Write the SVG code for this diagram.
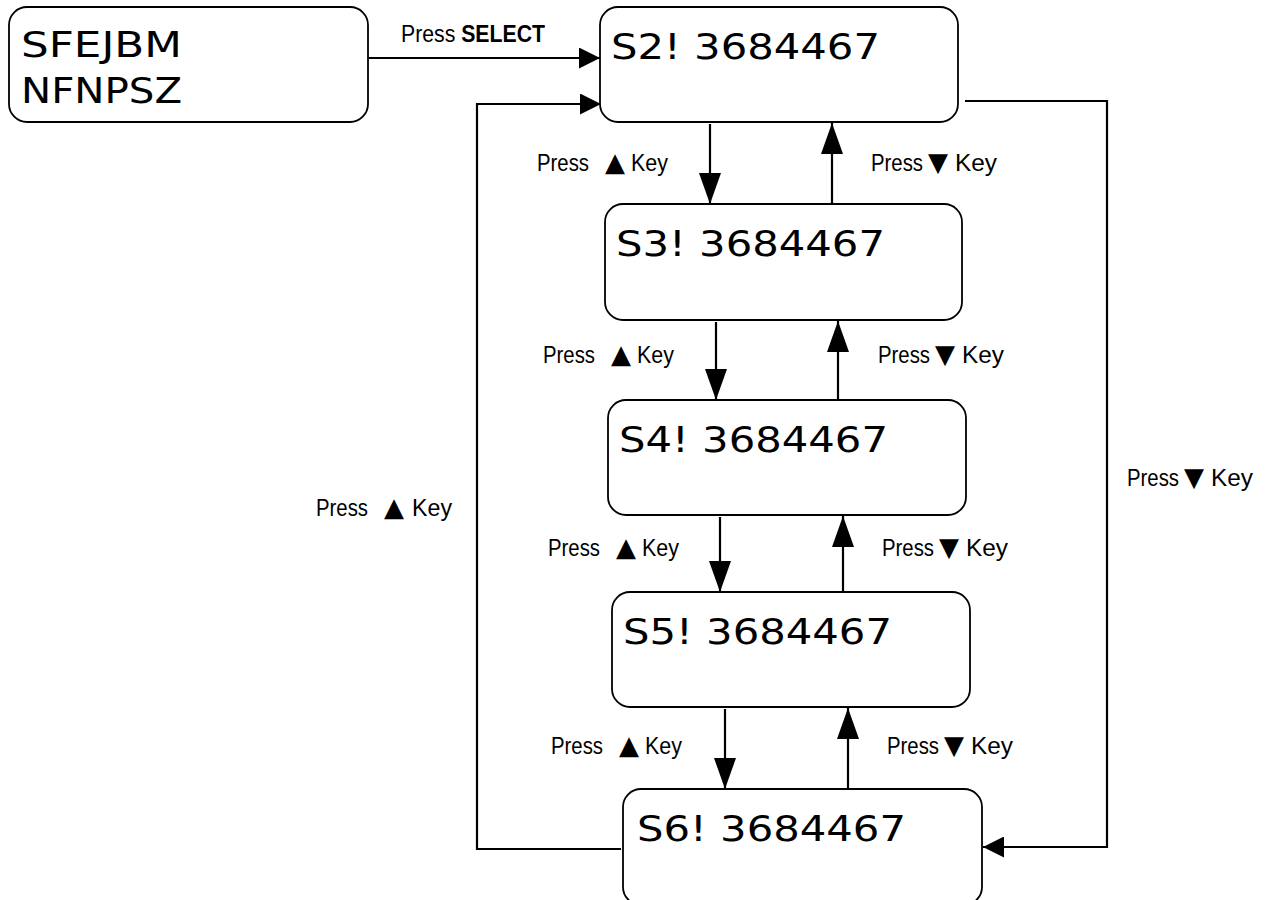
<svg xmlns="http://www.w3.org/2000/svg" width="1265" height="900" viewBox="0 0 1265 900">
<style>
.box{fill:#fff;stroke:#000;stroke-width:1.8}
.big{font-family:"DejaVu Sans","Liberation Sans",sans-serif;font-size:36px;fill:#000}
.lbl{font-family:"Liberation Sans",Arial,sans-serif;font-size:23px;fill:#000}
.tri{font-family:"DejaVu Sans",sans-serif;font-size:26px;fill:#000}
.ln{fill:none;stroke:#000;stroke-width:2.2}
.v{marker-end:url(#av)}
.h{marker-end:url(#ah)}
</style>
<defs>
<marker id="av" markerUnits="userSpaceOnUse" markerWidth="31" markerHeight="22" refX="31" refY="11" orient="auto" viewBox="0 0 31 22">
<path d="M0,0 L31,11 L0,22 z" fill="#000"/>
</marker>
<marker id="ah" markerUnits="userSpaceOnUse" markerWidth="21" markerHeight="21" refX="21" refY="10.5" orient="auto" viewBox="0 0 21 21">
<path d="M0,0 L21,10.5 L0,21 z" fill="#000"/>
</marker>
</defs>
<rect width="1265" height="900" fill="#fff"/>
<g id="connectors">
<path class="ln h" d="M369,58 H600"/>
<path class="ln h" d="M621,849 H477 V104 H601"/>
<path class="ln h" d="M965,101 H1107 V847 H983"/>
<path class="ln v" d="M710,124 V204"/>
<path class="ln v" d="M832,207 V123"/>
<path class="ln v" d="M716,322 V400"/>
<path class="ln v" d="M838,403 V321"/>
<path class="ln v" d="M720,517 V592"/>
<path class="ln v" d="M843,595 V516"/>
<path class="ln v" d="M725,709 V789"/>
<path class="ln v" d="M848,792 V708"/>
</g>
<g id="labels">
<text class="lbl" x="401" y="42" textLength="144" lengthAdjust="spacingAndGlyphs" font-size="21">Press <tspan font-weight="bold">SELECT</tspan></text>
<g id="lbl-up-1"><text class="lbl" x="537" y="171" textLength="52" lengthAdjust="spacingAndGlyphs">Press</text><text class="tri" x="605" y="171">▲</text><text class="lbl" x="631" y="171" textLength="37" lengthAdjust="spacingAndGlyphs">Key</text></g>
<g id="lbl-dn-1"><text class="lbl" x="871" y="171" textLength="52" lengthAdjust="spacingAndGlyphs">Press</text><text class="tri" x="928" y="171">▼</text><text class="lbl" x="955" y="171" textLength="42" lengthAdjust="spacingAndGlyphs">Key</text></g>
<g id="lbl-up-2"><text class="lbl" x="543" y="363" textLength="52" lengthAdjust="spacingAndGlyphs">Press</text><text class="tri" x="611" y="363">▲</text><text class="lbl" x="637" y="363" textLength="37" lengthAdjust="spacingAndGlyphs">Key</text></g>
<g id="lbl-dn-2"><text class="lbl" x="878" y="363" textLength="52" lengthAdjust="spacingAndGlyphs">Press</text><text class="tri" x="935" y="363">▼</text><text class="lbl" x="962" y="363" textLength="42" lengthAdjust="spacingAndGlyphs">Key</text></g>
<g id="lbl-up-3"><text class="lbl" x="548" y="556" textLength="52" lengthAdjust="spacingAndGlyphs">Press</text><text class="tri" x="616" y="556">▲</text><text class="lbl" x="642" y="556" textLength="37" lengthAdjust="spacingAndGlyphs">Key</text></g>
<g id="lbl-dn-3"><text class="lbl" x="882" y="556" textLength="52" lengthAdjust="spacingAndGlyphs">Press</text><text class="tri" x="939" y="556">▼</text><text class="lbl" x="966" y="556" textLength="42" lengthAdjust="spacingAndGlyphs">Key</text></g>
<g id="lbl-up-4"><text class="lbl" x="551" y="754" textLength="52" lengthAdjust="spacingAndGlyphs">Press</text><text class="tri" x="619" y="754">▲</text><text class="lbl" x="645" y="754" textLength="37" lengthAdjust="spacingAndGlyphs">Key</text></g>
<g id="lbl-dn-4"><text class="lbl" x="887" y="754" textLength="52" lengthAdjust="spacingAndGlyphs">Press</text><text class="tri" x="944" y="754">▼</text><text class="lbl" x="971" y="754" textLength="42" lengthAdjust="spacingAndGlyphs">Key</text></g>
<g id="lbl-up-loop"><text class="lbl" x="316" y="516" textLength="52" lengthAdjust="spacingAndGlyphs">Press</text><text class="tri" x="384" y="516">▲</text><text class="lbl" x="412" y="516" textLength="40" lengthAdjust="spacingAndGlyphs">Key</text></g>
<g id="lbl-dn-loop"><text class="lbl" x="1127" y="486" textLength="52" lengthAdjust="spacingAndGlyphs">Press</text><text class="tri" x="1184" y="486">▼</text><text class="lbl" x="1211" y="486" textLength="42" lengthAdjust="spacingAndGlyphs">Key</text></g>
</g>
<g id="node-menu">
<rect class="box" x="9" y="7" width="359" height="115" rx="18"/>
<text class="big" x="21" y="57" font-size="34" textLength="161" lengthAdjust="spacingAndGlyphs">SFEJBM</text>
<text class="big" x="21" y="103" font-size="34" textLength="161" lengthAdjust="spacingAndGlyphs">NFNPSZ</text>
</g>
<g id="node-s2">
<rect class="box" x="600" y="7" width="358" height="115" rx="18"/>
<text class="big" x="611" y="59" textLength="269" lengthAdjust="spacingAndGlyphs">S2! 3684467</text>
</g>
<g id="node-s3">
<rect class="box" x="605" y="204" width="357" height="116" rx="18"/>
<text class="big" x="616" y="256" textLength="269" lengthAdjust="spacingAndGlyphs">S3! 3684467</text>
</g>
<g id="node-s4">
<rect class="box" x="608" y="400" width="358" height="115" rx="18"/>
<text class="big" x="619" y="452" textLength="269" lengthAdjust="spacingAndGlyphs">S4! 3684467</text>
</g>
<g id="node-s5">
<rect class="box" x="612" y="592" width="358" height="115" rx="18"/>
<text class="big" x="623" y="644" textLength="269" lengthAdjust="spacingAndGlyphs">S5! 3684467</text>
</g>
<g id="node-s6">
<rect class="box" x="623" y="789" width="359" height="116" rx="18"/>
<text class="big" x="637" y="841" textLength="269" lengthAdjust="spacingAndGlyphs">S6! 3684467</text>
</g>
</svg>
